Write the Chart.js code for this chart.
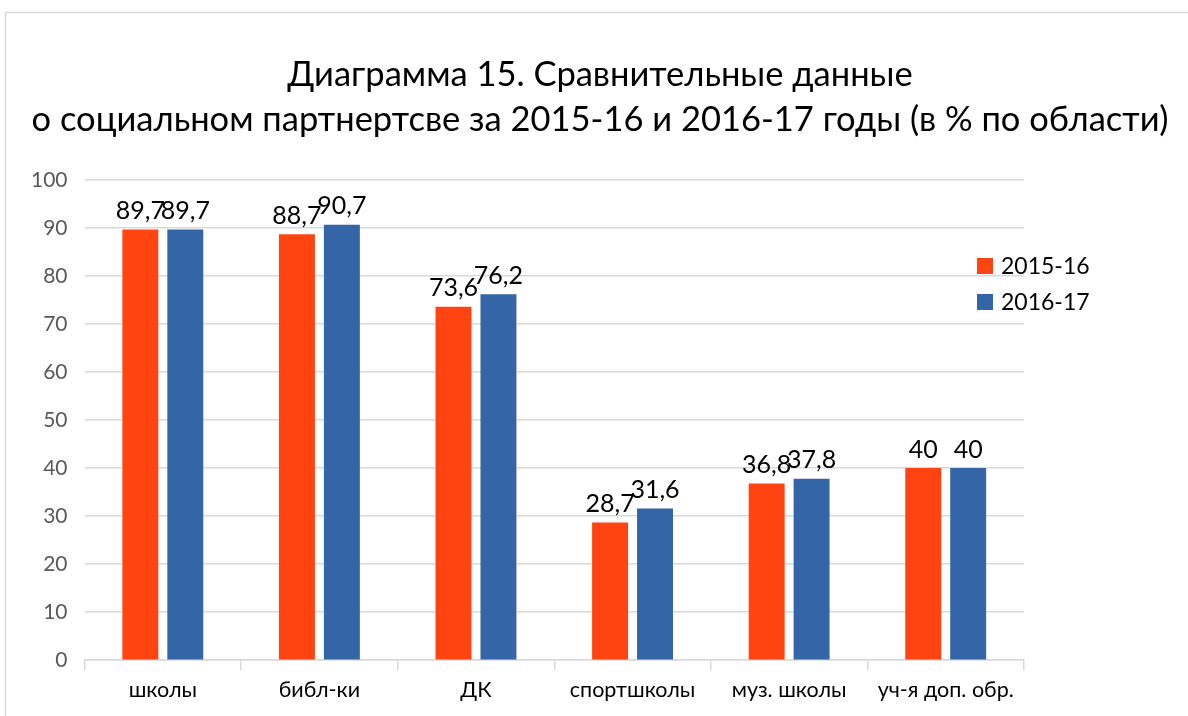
<!DOCTYPE html>
<html>
<head>
<meta charset="utf-8">
<script src="https://cdn.jsdelivr.net/npm/chart.js@4"></script>
<style>
  body { margin: 0; background: #fff; }
  #wrap { width: 1188px; height: 716px; }
</style>
</head>
<body>
<div id="wrap"><canvas id="grafico" width="1188" height="716"></canvas></div>
<script>
const categorias = ["школы", "библ-ки", "ДК", "спортшколы", "муз. школы", "уч-я доп. обр."];
const anos = ["2015-16", "2016-17"];
const valores2015 = [89.7, 88.7, 73.6, 28.7, 36.8, 40];
const valores2016 = [89.7, 90.7, 76.2, 31.6, 37.8, 40];
const cores = ["#ff4311", "#3465a6"];
const titulo = ["Диаграмма 15. Сравнительные данные", "о социальном партнертсве за 2015-16 и 2016-17 годы (в % по области)"];

// moldura cinza em volta do grafico
const moldura = {
    id: "moldura",
    beforeDraw(chart) {
        const c = chart.ctx;
        c.save();
        c.fillStyle = "#fff";
        c.fillRect(0, 0, chart.width, chart.height);
        c.strokeStyle = "#d9d9d9";
        c.lineWidth = 1.5;
        c.strokeRect(5.5, 12.5, 1300, 900);
        c.restore();
    }
};

// titulo centralizado na largura toda (a legenda fica fora da area)
const cabecalho = {
    id: "cabecalho",
    afterDraw(chart) {
        const c = chart.ctx;
        c.save();
        c.font = "34.5px Lato";
        c.fillStyle = "#000";
        c.textAlign = "center";
        c.textBaseline = "middle";
        titulo.forEach((linha, i) => c.fillText(linha, 600, 75 + i * 45));
        c.restore();
    }
};

// valores em cima das barras, com virgula
const rotulos = {
    id: "rotulos",
    afterDatasetsDraw(chart) {
        const c = chart.ctx;
        c.save();
        c.font = "25px Lato";
        c.fillStyle = "#000";
        c.textAlign = "center";
        c.textBaseline = "bottom";
        chart.data.datasets.forEach((ds, i) => {
            chart.getDatasetMeta(i).data.forEach((bar, j) => {
                const txt = String(ds.data[j]).replace(".", ",");
                c.fillText(txt, bar.x, bar.y - 6);
            });
        });
        c.restore();
    }
};

// legenda a direita
const legenda = {
    id: "legenda",
    afterDraw(chart) {
        const c = chart.ctx;
        c.save();
        c.font = "23px Lato";
        c.textBaseline = "middle";
        chart.data.datasets.forEach((ds, i) => {
            const y = 266 + i * 36;
            c.fillStyle = ds.backgroundColor;
            c.fillRect(977, y - 8, 16, 16);
            c.fillStyle = "#000";
            c.fillText(ds.label, 1001, y + 1);
        });
        c.restore();
    }
};

let ctx = document.getElementById("grafico").getContext("2d");
new Chart(ctx, {
    type: "bar",
    data: {
        labels: categorias,
        datasets: [
            { label: anos[0], data: valores2015, backgroundColor: cores[0] },
            { label: anos[1], data: valores2016, backgroundColor: cores[1] }
        ]
    },
    options: {
        responsive: false,
        animation: false,
        events: [],
        layout: { padding: { left: 14, right: 164, top: 180, bottom: 6 } },
        datasets: { bar: { categoryPercentage: 0.574, barPercentage: 0.8 } },
        plugins: {
            legend: { display: false },
            tooltip: { enabled: false },
            title: { display: false }
        },
        scales: {
            x: {
                grid: { display: true, drawOnChartArea: false, drawTicks: true, tickLength: 10, color: "#d9d9d9", offset: true, lineWidth: 1.5 },
                border: { color: "#d9d9d9", width: 1.5 },
                ticks: { color: "#000", font: { family: "Lato", size: 21.5 }, padding: 7 }
            },
            y: {
                min: 0,
                max: 100,
                grid: { color: "#d9d9d9", drawTicks: false, lineWidth: 1.5 },
                border: { display: false },
                ticks: { stepSize: 10, color: "#595959", font: { family: "Lato", size: 21 }, padding: 17 }
            }
        }
    },
    plugins: [moldura, cabecalho, rotulos, legenda]
});
</script>
</body>
</html>
